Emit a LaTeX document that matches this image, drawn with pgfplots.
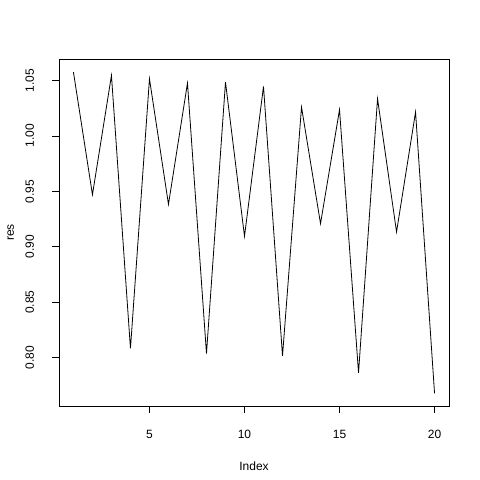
\documentclass[border=0pt]{standalone}
\usepackage{fontspec}
\setmainfont{Liberation Sans}
\usepackage{pgfplots}
\pgfplotsset{compat=1.18}
\begin{document}
\begin{tikzpicture}[font=\fontsize{12}{14.4}\selectfont]
\path[use as bounding box] (0,0) rectangle (480pt,480pt);
\begin{axis}[
  at={(59pt,74pt)}, anchor=south west,
  scale only axis, width=390pt, height=346.7pt,
  xmin=0.24, xmax=20.76, ymin=0.7564, ymax=1.0691,
  axis line style={line width=0.8pt},
  tick style={line width=0.8pt, black},
  major tick length=7.2pt, tick align=outside,
  xtick pos=bottom, ytick pos=left,
  xtick={5,10,15,20},
  ytick={0.80,0.85,0.90,0.95,1.00,1.05},
  /pgf/number format/assume math mode=true,
  yticklabel style={/pgf/number format/fixed, /pgf/number format/fixed zerofill, /pgf/number format/precision=2, xshift=-18pt, rotate=90, anchor=base, inner sep=0pt},
  xticklabel style={anchor=base, yshift=-25.7pt, inner sep=0pt},
  xlabel={Index}, ylabel={res},
  xlabel style={at={(axis description cs:0.5,-0.1863)}, anchor=base, inner sep=0pt},
  ylabel style={at={(axis description cs:-0.1154,0.5)}, anchor=base, inner sep=0pt},
]
\addplot[black, line width=0.8pt] coordinates {
(1,1.0575) (2,0.947) (3,1.0545) (4,0.8083) (5,1.0515)
(6,0.9383) (7,1.0476) (8,0.8037) (9,1.0485) (10,0.9095)
(11,1.0446) (12,0.8016) (13,1.026) (14,0.9209) (15,1.0236)
(16,0.7863) (17,1.0335) (18,0.9134) (19,1.0215) (20,0.7677)
};
\end{axis}
\end{tikzpicture}
\end{document}
